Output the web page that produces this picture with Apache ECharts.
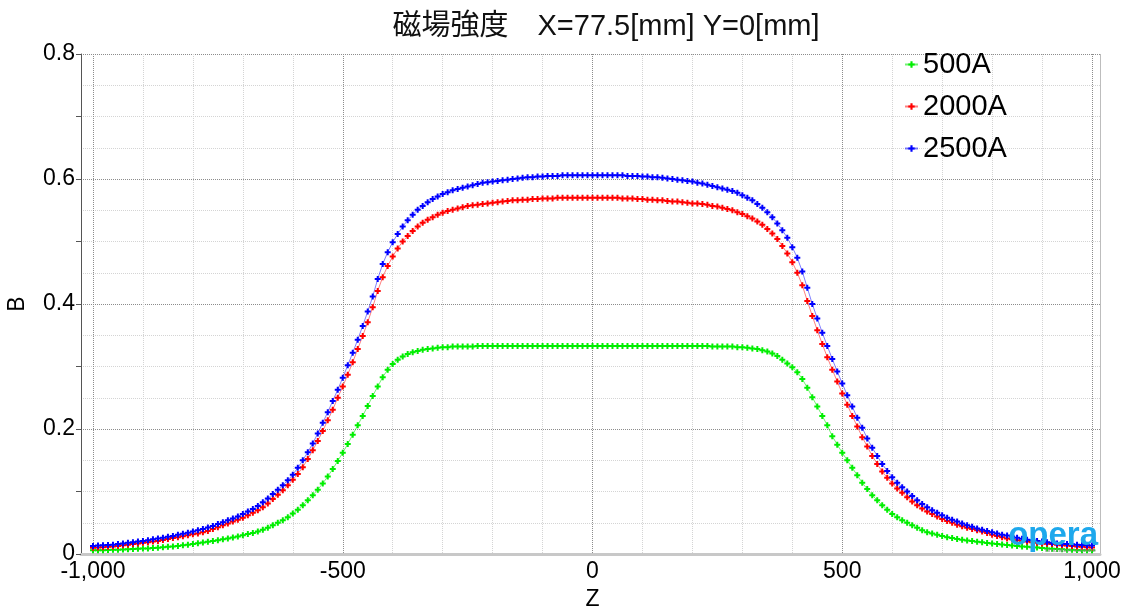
<!DOCTYPE html>
<html lang="ja">
<head>
<meta charset="UTF-8" />
<title>磁場強度</title>
<script src="https://cdn.jsdelivr.net/npm/echarts@6/dist/echarts.min.js"></script>
<style>
  html, body { margin: 0; padding: 0; background: #fff; }
  #chart { width: 1126px; height: 610px; }
</style>
</head>
<body>
<div id="chart"></div>
<script>
// sample positions along Z [mm]: -1000 ... 1000, step 10
const zStart = -1000;
const zStep = 10;

const seriesNames = ["500A", "2000A", "2500A"];
const xTickLabels = ["-1,000", "-500", "0", "500", "1,000"];

// B values, one per Z sample
const b500 = [
  0.006, 0.006, 0.0062, 0.0065, 0.0068, 0.007, 0.0073, 0.0076, 0.008, 0.0083,
  0.0087, 0.009, 0.0095, 0.010, 0.0107, 0.0115, 0.0122, 0.013, 0.014, 0.015,
  0.0162, 0.0172, 0.0183, 0.0195, 0.0207, 0.022, 0.0235, 0.025, 0.0265, 0.028,
  0.030, 0.032, 0.0335, 0.036, 0.039, 0.042, 0.046, 0.050, 0.054, 0.059,
  0.065, 0.071, 0.078, 0.086, 0.094, 0.103, 0.113, 0.124, 0.136, 0.149,
  0.162, 0.176, 0.191, 0.206, 0.221, 0.237, 0.253, 0.268, 0.283, 0.295,
  0.304, 0.311, 0.316, 0.320, 0.323, 0.325, 0.327, 0.328, 0.329, 0.330,
  0.331, 0.331, 0.332, 0.332, 0.332, 0.332, 0.332, 0.333, 0.333, 0.333,
  0.333, 0.333, 0.333, 0.333, 0.333, 0.333, 0.333, 0.333, 0.333, 0.333,
  0.333, 0.333, 0.333, 0.333, 0.333, 0.333, 0.333, 0.333, 0.333, 0.333,
  0.333,
  0.333, 0.333, 0.333, 0.333, 0.333, 0.333, 0.333, 0.333, 0.333, 0.333,
  0.333, 0.333, 0.333, 0.333, 0.333, 0.333, 0.333, 0.333, 0.333, 0.333,
  0.333, 0.333, 0.333, 0.332, 0.332, 0.332, 0.332, 0.332, 0.331, 0.331,
  0.330, 0.329, 0.328, 0.326, 0.324, 0.321, 0.317, 0.311, 0.305, 0.299,
  0.291, 0.280, 0.266, 0.251, 0.236, 0.221, 0.206, 0.1885, 0.175, 0.162,
  0.150, 0.138, 0.126, 0.114, 0.104, 0.094, 0.086, 0.078, 0.071, 0.064,
  0.059, 0.054, 0.050, 0.046, 0.042, 0.038, 0.035, 0.033, 0.031, 0.029,
  0.027, 0.0255, 0.024, 0.0228, 0.0218, 0.0208, 0.0198, 0.0188, 0.0178, 0.0168,
  0.016, 0.0152, 0.0145, 0.0138, 0.013, 0.0122, 0.0115, 0.011, 0.0103, 0.0097,
  0.009, 0.0085, 0.008, 0.0075, 0.007, 0.0068, 0.0065, 0.0062, 0.006, 0.006
];

const b2000 = [
  0.010, 0.0105, 0.011, 0.0115, 0.012, 0.013, 0.014, 0.015, 0.016, 0.017,
  0.018, 0.019, 0.020, 0.021, 0.0225, 0.024, 0.0255, 0.027, 0.0285, 0.030,
  0.0315, 0.033, 0.035, 0.037, 0.040, 0.043, 0.046, 0.049, 0.052, 0.055,
  0.058, 0.062, 0.066, 0.070, 0.075, 0.081, 0.088, 0.095, 0.102, 0.110,
  0.119, 0.128, 0.139, 0.152, 0.166, 0.181, 0.197, 0.214, 0.231, 0.250,
  0.268, 0.287, 0.307, 0.328, 0.349, 0.371, 0.395, 0.421, 0.443, 0.461,
  0.476, 0.489, 0.500, 0.509, 0.517, 0.524, 0.530, 0.535, 0.539, 0.543,
  0.546, 0.549, 0.551, 0.553, 0.555, 0.557, 0.558, 0.559, 0.560, 0.561,
  0.562, 0.563, 0.564, 0.565, 0.566, 0.566, 0.567, 0.567, 0.568, 0.568,
  0.569, 0.569, 0.569, 0.570, 0.570, 0.570, 0.570, 0.570, 0.570, 0.570,
  0.570,
  0.570, 0.570, 0.570, 0.570, 0.570, 0.569, 0.569, 0.569, 0.568, 0.568,
  0.567, 0.567, 0.566, 0.566, 0.565, 0.564, 0.564, 0.563, 0.562, 0.561,
  0.561, 0.560, 0.559, 0.557, 0.556, 0.554, 0.552, 0.550, 0.547,
  0.544, 0.5405, 0.537, 0.532, 0.527, 0.520, 0.513, 0.504, 0.493, 0.481,
  0.467, 0.450, 0.430, 0.405, 0.381, 0.358, 0.336, 0.315, 0.295, 0.276,
  0.257, 0.239, 0.221, 0.204, 0.187, 0.172, 0.157, 0.144, 0.132, 0.122,
  0.113, 0.105, 0.098, 0.091, 0.084, 0.078, 0.073, 0.068, 0.064, 0.060,
  0.056, 0.053, 0.050, 0.047, 0.0445, 0.042, 0.040, 0.038, 0.036, 0.0335,
  0.031, 0.029, 0.027, 0.025, 0.0235, 0.022, 0.021, 0.020, 0.019, 0.018,
  0.017, 0.0165, 0.016, 0.015, 0.014, 0.0135, 0.013, 0.012, 0.0115, 0.011, 0.0105
];

const b2500 = [
  0.013, 0.0135, 0.014, 0.0145, 0.015, 0.016, 0.017, 0.018, 0.019, 0.020,
  0.021, 0.022, 0.0235, 0.025, 0.026, 0.0275, 0.029, 0.031, 0.0325, 0.034,
  0.036, 0.038, 0.040, 0.0425, 0.045, 0.048, 0.051, 0.054, 0.057, 0.060,
  0.064, 0.068, 0.072, 0.077, 0.083, 0.089, 0.096, 0.103, 0.110, 0.118,
  0.127, 0.138, 0.150, 0.163, 0.177, 0.193, 0.210, 0.227, 0.245, 0.263,
  0.282, 0.302, 0.322, 0.343, 0.365, 0.388, 0.412, 0.440, 0.464, 0.483,
  0.499, 0.512, 0.524, 0.534, 0.543, 0.551, 0.557, 0.563, 0.568, 0.572,
  0.576, 0.579, 0.582, 0.584, 0.586, 0.588, 0.590, 0.592, 0.594, 0.595,
  0.596, 0.597, 0.598, 0.599, 0.600, 0.601, 0.602, 0.603, 0.603, 0.604,
  0.604, 0.605, 0.605, 0.605, 0.606, 0.606, 0.606, 0.606, 0.606, 0.606,
  0.606,
  0.606, 0.606, 0.606, 0.606, 0.606, 0.606, 0.605, 0.605, 0.605, 0.604,
  0.604, 0.603, 0.603, 0.602, 0.601, 0.600, 0.599, 0.598, 0.597, 0.596,
  0.594, 0.593, 0.591, 0.589, 0.587, 0.585, 0.583, 0.581, 0.578, 0.574,
  0.570, 0.566, 0.560, 0.554, 0.547, 0.539, 0.529, 0.518, 0.506, 0.491,
  0.474, 0.452, 0.426, 0.400, 0.377, 0.354, 0.333, 0.312, 0.292, 0.273,
  0.254, 0.236, 0.218, 0.202, 0.185, 0.170, 0.157, 0.144, 0.133, 0.123,
  0.114, 0.107, 0.100, 0.093, 0.086, 0.080, 0.075, 0.070, 0.066, 0.062,
  0.058, 0.055, 0.052, 0.049, 0.046, 0.0435, 0.041, 0.039, 0.037, 0.035,
  0.033, 0.031, 0.0295, 0.028, 0.026, 0.0245, 0.023, 0.022, 0.021, 0.020,
  0.019, 0.018, 0.017, 0.0165, 0.016, 0.0155, 0.015, 0.0145, 0.014, 0.0135
];

const seriesColors = ["#00ee00", "#ff0000", "#0000ff"];
const lineColors = ["rgba(0,230,0,0.55)", "rgba(255,0,0,0.5)", "rgba(0,0,255,0.5)"];

const toPairs = (vals) => vals.map((v, i) => [zStart + i * zStep, v]);

const plusSymbol = "path://M2,0H4V2H6V4H4V6H2V4H0V2H2Z";
const font = "'Liberation Sans', Arial, sans-serif";
const majorGrid = "#8c8c8c";
const minorGrid = "#d4d4d4";

const chart = echarts.init(document.getElementById("chart"));

const option = {
  animation: false,
  backgroundColor: "#fff",
  title: {
    text: "磁場強度　X=77.5[mm] Y=0[mm]",
    left: 601,
    textAlign: "center",
    top: 7,
    textStyle: {
      fontFamily: "'Liberation Sans', 'Noto Sans CJK JP', sans-serif",
      fontSize: 29,
      fontWeight: "normal",
      color: "#111"
    }
  },
  legend: {
    orient: "vertical",
    left: 899,
    top: 45,
    itemGap: 13,
    itemWidth: 13,
    itemHeight: 8,
    data: seriesNames,
    textStyle: { fontFamily: font, fontSize: 29, color: "#000" }
  },
  grid: [
    // data grid: Z from -1000 to 1000
    { left: 93, right: 34, top: 54, bottom: 56, outerBoundsMode: "none" },
    // frame grid: slightly wider, carries the y axis and horizontal lines
    { left: 81, right: 26, top: 54, bottom: 56, outerBoundsMode: "none" }
  ],
  xAxis: [
    {
      type: "value",
      gridIndex: 0,
      min: -1000,
      max: 1000,
      interval: 100,
      name: "Z",
      nameLocation: "middle",
      nameGap: 33,
      nameTextStyle: { fontFamily: font, fontSize: 23, color: "#000" },
      axisLine: { show: false },
      axisTick: { show: false },
      axisLabel: {
        fontFamily: font,
        fontSize: 23,
        color: "#000",
        margin: 6,
        formatter: (v) => {
          const k = Math.round(v / 500) + 2;
          return v % 500 === 0 ? xTickLabels[k] : "";
        }
      },
      splitLine: {
        show: true,
        lineStyle: {
          type: "dotted",
          width: 1,
          color: [majorGrid, minorGrid, minorGrid, minorGrid, minorGrid]
        }
      }
    },
    {
      type: "value",
      gridIndex: 1,
      min: 0,
      max: 1,
      interval: 1,
      axisLabel: { show: false },
      axisTick: { show: false },
      axisLine: { show: true, lineStyle: { color: "#c8c8c8", width: 3 } },
      splitLine: { show: true, lineStyle: { color: ["rgba(0,0,0,0)", "#bdbdbd"], width: 1 } }
    }
  ],
  yAxis: [
    {
      type: "value",
      gridIndex: 0,
      min: 0,
      max: 0.8,
      show: false
    },
    {
      type: "value",
      gridIndex: 1,
      min: 0,
      max: 0.8,
      interval: 0.1,
      name: "B",
      nameLocation: "middle",
      nameGap: 52,
      nameTextStyle: { fontFamily: font, fontSize: 23, color: "#000" },
      axisLine: { show: true, lineStyle: { color: "#555", width: 1 } },
      axisTick: { show: true, length: 5, lineStyle: { color: "#555" } },
      axisLabel: {
        fontFamily: font,
        fontSize: 23,
        color: "#000",
        margin: 6,
        formatter: (v) => {
          const n = Math.round(v * 10);
          if (n % 2 !== 0) return "";
          return n === 0 ? "0" : (n / 10).toFixed(1);
        }
      },
      splitLine: {
        show: true,
        lineStyle: { type: "dotted", width: 1, color: [majorGrid, minorGrid] }
      },
      minorTick: { show: false, splitNumber: 2 },
      minorSplitLine: {
        show: true,
        lineStyle: { type: "dotted", width: 1, color: minorGrid }
      }
    }
  ],
  series: [b500, b2000, b2500].map((vals, i) => ({
    name: seriesNames[i],
    type: "line",
    xAxisIndex: 0,
    yAxisIndex: 0,
    data: toPairs(vals),
    symbol: plusSymbol,
    symbolSize: 6,
    showAllSymbol: true,
    itemStyle: { color: seriesColors[i] },
    lineStyle: { color: lineColors[i], width: 1 }
  })),
  graphic: [
    {
      type: "text",
      right: 28,
      bottom: 58,
      z: 100,
      style: {
        text: "opera",
        fill: "#1ea8ec",
        font: "bold 33px 'Liberation Sans', Arial, sans-serif"
      }
    },
    {
      type: "text",
      right: 30,
      bottom: 57,
      z: 100,
      style: {
        text: "simulation software",
        fill: "#888",
        font: "6px 'Liberation Sans', Arial, sans-serif"
      }
    }
  ]
};

chart.setOption(option);
</script>
</body>
</html>
